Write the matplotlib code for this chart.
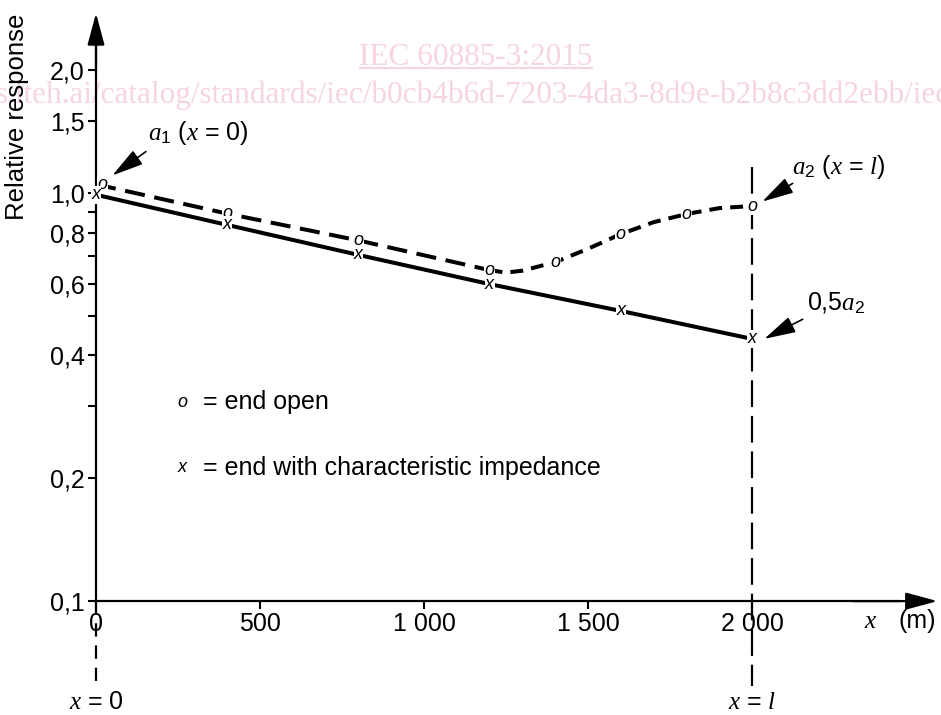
import numpy as np
import matplotlib
matplotlib.use("Agg")
import matplotlib.pyplot as plt
from matplotlib.ticker import FixedLocator, NullFormatter
from matplotlib.lines import Line2D

# values (relative response, log scale)
dist_curve = [0, 400, 800, 1200, 1250, 1300, 1400, 1500, 1600, 1700, 1800, 1900, 2000]
open_curve = [1.05, 0.89, 0.765, 0.647, 0.638, 0.645, 0.677, 0.73, 0.793, 0.848, 0.888, 0.918, 0.929]
split = 3  # curve changes dash style after 1200 m

open_x = [0, 400, 800, 1200, 1400, 1600, 1800, 2000]
open_y = [1.05, 0.89, 0.765, 0.647, 0.677, 0.793, 0.888, 0.929]

match_x = [0, 400, 800, 1200, 1600, 2000]
match_y = [0.99, 0.835, 0.705, 0.598, 0.514, 0.439]

xticks = [0, 500, 1000, 1500, 2000]
xticklabels = ["0", "500", "1 000", "1 500", "2 000"]
yticks = [0.1, 0.2, 0.4, 0.6, 0.8, 1.0, 1.5, 2.0]
yticklabels = ["0,1", "0,2", "0,4", "0,6", "0,8", "1,0", "1,5", "2,0"]
yminor = [0.3, 0.5, 0.7, 0.9]
cable_len = 2000

plt.rcParams["font.family"] = ["Liberation Sans", "DejaVu Sans"]
plt.rcParams["mathtext.fontset"] = "custom"
plt.rcParams["mathtext.it"] = "Liberation Serif:italic"
plt.rcParams["mathtext.rm"] = "Liberation Sans"

fig = plt.figure(figsize=(9.41, 7.15), dpi=100)
ax = fig.add_axes([0, 0, 1, 1])
ax.patch.set_visible(False)
ax.set_yscale("log")
ax.set_xlim(-292.7, 2576)
ax.set_ylim(0.0526, 2.97)

# watermark
wm = "#f7d5dd"
fig.text(476 / 941, 1 - 65 / 715, "IEC 60885-3:2015", family="Liberation Serif",
         fontsize=22.5, color=wm, ha="center", va="baseline", zorder=-5)
fig.add_artist(Line2D([360 / 941, 592 / 941], [1 - 68 / 715, 1 - 68 / 715], color=wm, lw=1.5, zorder=-5))
fig.text(-0.004, 1 - 103 / 715, "s.iteh.ai/catalog/standards/iec/b0cb4b6d-7203-4da3-8d9e-b2b8c3dd2ebb/iec",
         family="Liberation Serif", fontsize=22.5, color=wm, ha="left", va="baseline", zorder=-5)

# axes with arrows
for s in ["top", "right"]:
    ax.spines[s].set_visible(False)
ax.spines["left"].set_position(("data", 0))
ax.spines["bottom"].set_position(("data", 0.1))
ax.spines["left"].set_bounds(0.1, 2.5)
ax.spines["bottom"].set_bounds(0, 2450)
ax.spines["left"].set_linewidth(1.6)
ax.spines["bottom"].set_linewidth(1.6)
arrow = dict(arrowstyle="-|>,head_length=1.3,head_width=0.35", color="k", lw=1.6, mutation_scale=15)
ax.annotate("", xy=(0, 2.8), xytext=(0, 2.0), arrowprops=arrow)
ax.annotate("", xy=(2574, 0.1), xytext=(2300, 0.1), arrowprops=arrow)

ax.set_xticks(xticks)
ax.set_xticklabels(xticklabels, fontsize=18)
ax.yaxis.set_major_locator(FixedLocator(yticks))
ax.set_yticklabels(yticklabels, fontsize=18)
ax.yaxis.set_minor_locator(FixedLocator(yminor))
ax.yaxis.set_minor_formatter(NullFormatter())
ax.tick_params(axis="x", direction="out", length=6, width=1.5, pad=2)
ax.tick_params(axis="y", which="both", direction="out", length=6, width=1.5, pad=2)

# curves
ax.plot(match_x, match_y, color="k", lw=2.9, solid_capstyle="butt", zorder=3)
ax.plot(dist_curve[:split + 1], open_curve[:split + 1], color="k", lw=2.9,
        dashes=(5, 2.4), dash_capstyle="butt", zorder=3)
ax.plot(dist_curve[split:], open_curve[split:], color="k", lw=2.9,
        dashes=(3.2, 2), dash_capstyle="butt", zorder=3)

for x, y in zip(open_x, open_y):
    ax.text(x + (20 if x == 0 else 0), y, "o", style="italic", fontsize=13, ha="center", va="center",
            bbox=dict(fc="white", ec="none", pad=0.2), zorder=4)
for x, y in zip(match_x, match_y):
    ax.text(x, y, "x", style="italic", fontsize=13, ha="center", va="center",
            bbox=dict(fc="white", ec="none", pad=0.2), zorder=4)

# reference lines x = 0 and x = l
ax.plot([cable_len, cable_len], [1.16, 0.062], color="k", lw=1.6, dashes=(12, 4), zorder=2)
ax.plot([0, 0], [0.1, 0.062], color="k", lw=1.6, dashes=(6, 4), zorder=2)
ax.text(0, 0.0565, "$x$ = 0", fontsize=18, ha="center", va="center")
ax.text(cable_len, 0.0565, "$x$ = $l$", fontsize=18, ha="center", va="center")

# annotations
small_arrow = dict(arrowstyle="-|>,head_length=1.5,head_width=0.4", color="k", lw=1.2, mutation_scale=13)
ax.annotate("", xy=(43, 1.094), xytext=(159, 1.274), arrowprops=small_arrow)
ax.text(160, 1.40, "$a_{\\mathrm{1}}$ ($x$ = 0)", fontsize=18, ha="left", va="center")
ax.annotate("", xy=(2024, 0.945), xytext=(2131, 1.064), arrowprops=small_arrow)
ax.text(2122, 1.16, "$a_{\\mathrm{2}}$ ($x$ = $l$)", fontsize=18, ha="left", va="center")
ax.annotate("", xy=(2030, 0.436), xytext=(2162, 0.494), arrowprops=small_arrow)
ax.text(2168, 0.535, "0,5$a_{\\mathrm{2}}$", fontsize=18, ha="left", va="center")

# legend text
ax.text(262, 0.307, "o", style="italic", fontsize=13, ha="center", va="center")
ax.text(325, 0.307, "= end open", fontsize=18, ha="left", va="center")
ax.text(262, 0.212, "x", style="italic", fontsize=13, ha="center", va="center")
ax.text(325, 0.212, "= end with characteristic impedance", fontsize=18, ha="left", va="center")

# axis labels
ax.text(2360, 0.0895, "$x$", fontsize=18, ha="center", va="center")
ax.text(2505, 0.0895, "(m)", fontsize=18, ha="center", va="center")
fig.text(17 / 941, 1 - 117 / 715, "Relative response", rotation=90, fontsize=18.5, ha="center", va="center")

fig.savefig("out.png", dpi=100)
